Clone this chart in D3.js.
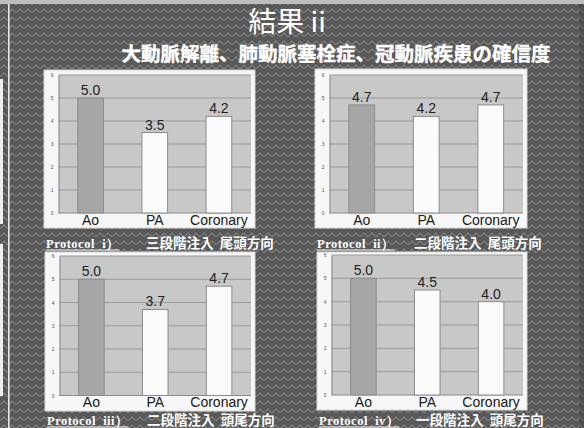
<!DOCTYPE html>
<html>
<head>
<meta charset="utf-8">
<script src="https://cdn.jsdelivr.net/npm/d3@7"></script>
<style>
  html, body { margin: 0; padding: 0; background: #5c5c5c; }
  svg { display: block; }
</style>
</head>
<body>
<svg id="chart" width="584" height="428"></svg>
<script>
// ---- data ----
const categories = ["Ao", "PA", "Coronary"];
const protocol1Values = [5.0, 3.5, 4.2];
const protocol2Values = [4.7, 4.2, 4.7];
const protocol3Values = [5.0, 3.7, 4.7];
const protocol4Values = [5.0, 4.5, 4.0];
const yTicks = [0, 1, 2, 3, 4, 5, 6];
const protocolIds = ["Protocol  i）", "Protocol  ii）", "Protocol  iii）", "Protocol  iv）"];
const protocolTexts = ["三段階注入  尾頭方向", "二段階注入  尾頭方向", "二段階注入  頭尾方向", "一段階注入  頭尾方向"];
const titleText = "結果 ii";
const subtitleText = "大動脈解離、肺動脈塞栓症、冠動脈疾患の確信度";

const seriesList = [protocol1Values, protocol2Values, protocol3Values, protocol4Values];

const svg = d3.select("#chart");
const W = 584, H = 428;

// ---- textured slide background ----
const defs = svg.append("defs");
const pat = defs.append("pattern")
  .attr("id", "weave").attr("patternUnits", "userSpaceOnUse")
  .attr("width", 8).attr("height", 8);
pat.append("rect").attr("width", 8).attr("height", 8).attr("fill", "#525252");
pat.append("path").attr("d", "M0,5 L4,1 L8,5").attr("fill", "none")
  .attr("stroke", "#808080").attr("stroke-width", 1.4);
pat.append("path").attr("d", "M0,9 L4,5 L8,9 M0,1 L4,-3 L8,1").attr("fill", "none")
  .attr("stroke", "#6a6a6a").attr("stroke-width", 0.9);

svg.append("rect").attr("width", W).attr("height", H).attr("fill", "url(#weave)");
svg.append("rect").attr("width", W).attr("height", 4).attr("fill", "#bdbdbd");
svg.append("rect").attr("x", 8).attr("y", 4).attr("width", 1.6).attr("height", H - 4).attr("fill", "#e8e8e8");
svg.append("rect").attr("x", 579).attr("y", 4).attr("width", 5).attr("height", H - 4).attr("fill", "#3e3e3e").attr("opacity", 0.4);
// slivers of neighbouring panels at the left edge
svg.append("rect").attr("x", 0).attr("y", 79).attr("width", 3).attr("height", 145).attr("fill", "#eeeeee");
svg.append("rect").attr("x", 0).attr("y", 244).attr("width", 3).attr("height", 152).attr("fill", "#eeeeee");

// ---- titles ----
svg.append("text")
  .attr("x", 287).attr("y", 32)
  .attr("text-anchor", "middle")
  .attr("font-family", "'Noto Sans CJK JP', sans-serif")
  .attr("font-size", 28).attr("fill", "#ffffff")
  .text(titleText);

svg.append("text")
  .attr("x", 336).attr("y", 61)
  .attr("text-anchor", "middle")
  .attr("font-family", "'Noto Sans CJK JP', sans-serif")
  .attr("font-weight", "bold")
  .attr("font-size", 19.5).attr("fill", "#ffffff")
  .attr("stroke", "#ffffff").attr("stroke-width", 0.4)
  .text(subtitleText);

// ---- panel layout ----
const panels = [
  { fx: 44, fy: 70, fw: 211, fh: 158, top: 75, bottom: 213, labelY: 248 },
  { fx: 315, fy: 69, fw: 212, fh: 159, top: 75, bottom: 213, labelY: 248 },
  { fx: 45, fy: 252, fw: 210, fh: 159, top: 256, bottom: 395.5, labelY: 425 },
  { fx: 317, fy: 252, fw: 210, fh: 158, top: 255, bottom: 395, labelY: 425 }
];

panels.forEach((p, i) => {
  const values = seriesList[i];
  const g = svg.append("g");

  // white chart frame
  g.append("rect")
    .attr("x", p.fx).attr("y", p.fy).attr("width", p.fw).attr("height", p.fh)
    .attr("fill", "#f7f7f7").attr("stroke", "#d8d8d8").attr("stroke-width", 1);

  const left = p.fx + 14.5, right = p.fx + p.fw - 4;

  const x = d3.scaleBand().domain(categories).range([left, right])
    .paddingInner(0.6).paddingOuter(0.3);
  const y = d3.scaleLinear().domain([0, 6]).range([p.bottom, p.top]);

  // plot area
  g.append("rect")
    .attr("x", left).attr("y", p.top).attr("width", right - left).attr("height", p.bottom - p.top)
    .attr("fill", "#c8c8c8");

  // gridlines
  g.append("g").selectAll("line").data(yTicks.filter(t => t > 0)).join("line")
    .attr("x1", left).attr("x2", right)
    .attr("y1", d => y(d)).attr("y2", d => y(d))
    .attr("stroke", "#9a9a9a").attr("stroke-width", 1);

  // y axis (tiny tick labels)
  const yAxis = d3.axisLeft(y).tickValues(yTicks).tickSize(0).tickPadding(5)
    .tickFormat(d3.format("d"));
  const ya = g.append("g").attr("transform", `translate(${left},0)`).call(yAxis);
  ya.select(".domain").attr("stroke", "#8a8a8a");
  ya.selectAll("text").attr("font-family", "Arial, 'Liberation Sans', sans-serif")
    .attr("font-size", 5).attr("fill", "#555");

  // baseline
  g.append("line").attr("x1", left).attr("x2", right)
    .attr("y1", y(0)).attr("y2", y(0)).attr("stroke", "#8a8a8a");

  // bars
  g.append("g").selectAll("rect").data(values).join("rect")
    .attr("x", (d, j) => x(categories[j]))
    .attr("y", d => y(d))
    .attr("width", x.bandwidth())
    .attr("height", d => y(0) - y(d))
    .attr("fill", (d, j) => j === 0 ? "#a6a6a6" : "#fbfbfb")
    .attr("stroke", "#8c8c8c").attr("stroke-width", 1);

  // value labels
  g.append("g").selectAll("text").data(values).join("text")
    .attr("x", (d, j) => x(categories[j]) + x.bandwidth() / 2)
    .attr("y", d => y(d) - 3)
    .attr("text-anchor", "middle")
    .attr("font-family", "Arial, 'Liberation Sans', sans-serif")
    .attr("font-size", 14).attr("fill", "#222")
    .text(d => d.toFixed(1));

  // category labels
  const xAxis = d3.axisBottom(x).tickSize(0).tickPadding(2);
  const xa = g.append("g").attr("transform", `translate(0,${p.bottom})`).call(xAxis);
  xa.select(".domain").remove();
  xa.selectAll("text").attr("font-family", "Arial, 'Liberation Sans', sans-serif")
    .attr("font-size", 14).attr("fill", "#1a1a1a");

  // protocol caption
  const idText = svg.append("text")
    .attr("x", p.fx + 2).attr("y", p.labelY)
    .attr("font-family", "'Liberation Serif', 'Times New Roman', serif")
    .attr("font-weight", "bold")
    .attr("font-size", 12.5).attr("fill", "#ffffff")
    .attr("letter-spacing", 0.5)
    .style("white-space", "pre")
    .text(protocolIds[i]);
  const bb = idText.node().getBBox();
  svg.append("line")
    .attr("x1", bb.x).attr("x2", bb.x + bb.width)
    .attr("y1", p.labelY + 2).attr("y2", p.labelY + 2)
    .attr("stroke", "#ffffff").attr("stroke-width", 1);

  svg.append("text")
    .attr("x", p.fx + (i % 2 === 0 ? 102 : 99)).attr("y", p.labelY)
    .attr("font-family", "'Noto Sans CJK JP', sans-serif")
    .attr("font-weight", "bold")
    .attr("font-size", 13.5).attr("fill", "#ffffff")
    .style("white-space", "pre")
    .text(protocolTexts[i]);
});
</script>
</body>
</html>
